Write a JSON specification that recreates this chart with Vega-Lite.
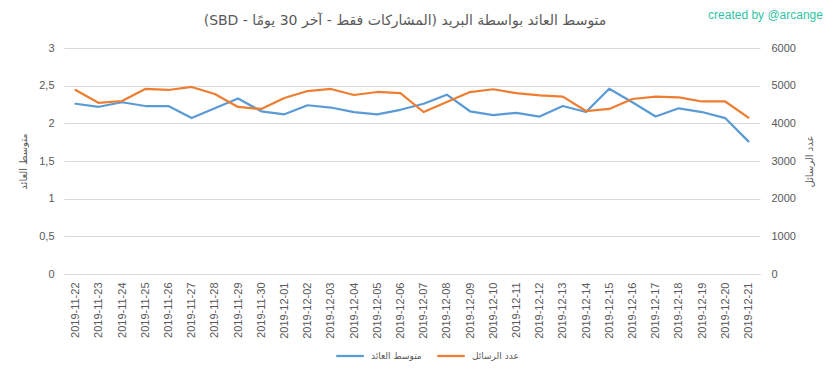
{
  "$schema": "https://vega.github.io/schema/vega-lite/v6.json",
  "width": 696,
  "height": 226,
  "autosize": {"type": "none"},
  "padding": {"left": 64, "top": 48, "right": 73, "bottom": 105},
  "background": "white",
  "title": {
    "text": "\u202bمتوسط العائد بواسطة البريد (المشاركات فقط - آخر 30 يومًا - SBD)\u202c",
    "font": "DejaVu Sans",
    "fontSize": 14,
    "fontWeight": "normal",
    "color": "#595959",
    "anchor": "middle",
    "dx": -7,
    "offset": -20
  },
  "data": {
    "values": [
      {"date": "2019-11-22", "avg": 2.26, "count": 4885},
      {"date": "2019-11-23", "avg": 2.22, "count": 4540},
      {"date": "2019-11-24", "avg": 2.28, "count": 4593},
      {"date": "2019-11-25", "avg": 2.23, "count": 4912},
      {"date": "2019-11-26", "avg": 2.23, "count": 4885},
      {"date": "2019-11-27", "avg": 2.07, "count": 4965},
      {"date": "2019-11-28", "avg": 2.2, "count": 4779},
      {"date": "2019-11-29", "avg": 2.33, "count": 4434},
      {"date": "2019-11-30", "avg": 2.16, "count": 4381},
      {"date": "2019-12-01", "avg": 2.12, "count": 4673},
      {"date": "2019-12-02", "avg": 2.24, "count": 4858},
      {"date": "2019-12-03", "avg": 2.21, "count": 4912},
      {"date": "2019-12-04", "avg": 2.15, "count": 4752},
      {"date": "2019-12-05", "avg": 2.12, "count": 4832},
      {"date": "2019-12-06", "avg": 2.18, "count": 4805},
      {"date": "2019-12-07", "avg": 2.26, "count": 4301},
      {"date": "2019-12-08", "avg": 2.38, "count": 4566},
      {"date": "2019-12-09", "avg": 2.16, "count": 4830},
      {"date": "2019-12-10", "avg": 2.11, "count": 4905},
      {"date": "2019-12-11", "avg": 2.14, "count": 4800},
      {"date": "2019-12-12", "avg": 2.09, "count": 4740},
      {"date": "2019-12-13", "avg": 2.23, "count": 4710},
      {"date": "2019-12-14", "avg": 2.15, "count": 4327},
      {"date": "2019-12-15", "avg": 2.46, "count": 4381},
      {"date": "2019-12-16", "avg": 2.28, "count": 4646},
      {"date": "2019-12-17", "avg": 2.09, "count": 4710},
      {"date": "2019-12-18", "avg": 2.2, "count": 4690},
      {"date": "2019-12-19", "avg": 2.15, "count": 4580},
      {"date": "2019-12-20", "avg": 2.07, "count": 4580},
      {"date": "2019-12-21", "avg": 1.76, "count": 4150}
    ]
  },
  "encoding": {
    "x": {
      "field": "date",
      "type": "ordinal",
      "scale": {"paddingOuter": 0.5},
      "axis": {
        "title": "created by @arcange",
        "titleX": 701,
        "titleY": -260,
        "titleAlign": "center",
        "titleBaseline": "middle",
        "titleAngle": 0,
        "titleFont": "Liberation Sans",
        "titleFontSize": 12,
        "titleFontWeight": "normal",
        "titleColor": "#33c4a3",
        "labelAngle": -90,
        "labelFont": "Liberation Sans",
        "labelFontSize": 11,
        "labelColor": "#595959",
        "labelPadding": 8,
        "ticks": false,
        "domain": true,
        "domainColor": "#d9d9d9",
        "domainWidth": 1,
        "grid": false
      }
    }
  },
  "layer": [
    {
      "mark": {"type": "line", "strokeWidth": 2.25, "strokeCap": "round", "strokeJoin": "round"},
      "encoding": {
        "y": {
          "field": "avg",
          "type": "quantitative",
          "scale": {"domain": [0, 3], "nice": false, "zero": true},
          "axis": {
            "title": "متوسط العائد",
            "titleFont": "DejaVu Sans",
            "titleFontSize": 10,
            "titleFontWeight": "normal",
            "titleColor": "#595959",
            "titleAngle": -90,
            "titleX": -41,
            "titleY": 113,
            "titleAlign": "center",
            "titleBaseline": "middle",
            "values": [0, 0.5, 1, 1.5, 2, 2.5, 3],
            "labelExpr": "replace(format(datum.value, '.1~f'), '.', ',')",
            "labelFont": "Liberation Sans",
            "labelFontSize": 11,
            "labelColor": "#595959",
            "labelPadding": 10,
            "ticks": false,
            "domain": false,
            "grid": true,
            "gridColor": "#d9d9d9",
            "gridWidth": 1
          }
        },
        "color": {
          "datum": "متوسط العائد",
          "type": "nominal",
          "scale": {"domain": ["متوسط العائد", "عدد الرسائل"], "range": ["#5b9bd5", "#ed7d31"]},
          "legend": {
            "title": null,
            "orient": "none",
            "legendX": 271,
            "legendY": 293,
            "direction": "horizontal",
            "symbolType": "stroke",
            "symbolSize": 760,
            "symbolStrokeWidth": 2.25,
            "labelFont": "DejaVu Sans",
            "labelFontSize": 9,
            "labelColor": "#595959",
            "labelOffset": 6,
            "columnPadding": 10
          }
        }
      }
    },
    {
      "mark": {"type": "line", "strokeWidth": 2.25, "strokeCap": "round", "strokeJoin": "round"},
      "encoding": {
        "y": {
          "field": "count",
          "type": "quantitative",
          "scale": {"domain": [0, 6000], "nice": false, "zero": true},
          "axis": {
            "orient": "right",
            "title": "عدد الرسائل",
            "titleFont": "DejaVu Sans",
            "titleFontSize": 10,
            "titleFontWeight": "normal",
            "titleColor": "#595959",
            "titleAngle": -90,
            "titleX": 49,
            "titleY": 113,
            "titleAlign": "center",
            "titleBaseline": "middle",
            "values": [0, 1000, 2000, 3000, 4000, 5000, 6000],
            "format": "d",
            "labelFont": "Liberation Sans",
            "labelFontSize": 11,
            "labelColor": "#595959",
            "labelPadding": 11,
            "ticks": false,
            "domain": false,
            "grid": false
          }
        },
        "color": {"datum": "عدد الرسائل", "type": "nominal"}
      }
    }
  ],
  "resolve": {"scale": {"y": "independent"}},
  "config": {"view": {"stroke": null}}
}
